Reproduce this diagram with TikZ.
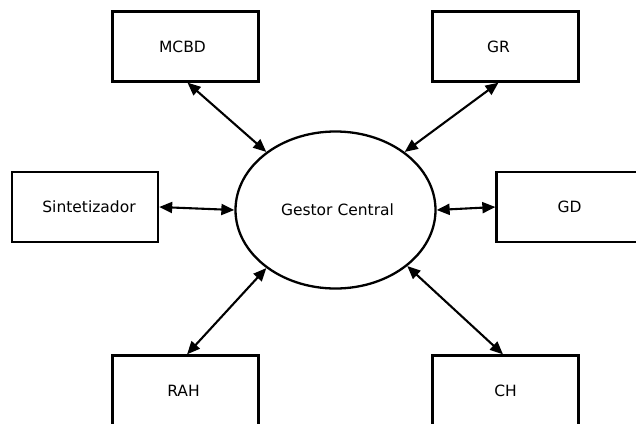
\documentclass[tikz,border=0pt]{standalone}
\usepackage{fontspec}
\setmainfont{DejaVu Sans}
\usetikzlibrary{shapes.geometric,arrows.meta}
\begin{document}
\begin{tikzpicture}[x=1pt,y=-1pt,
  box/.style={draw,line width=2.3pt,minimum width=146pt,minimum height=70pt,inner sep=0pt,font=\fontsize{15.5}{18}\selectfont},
  hub/.style={draw,ellipse,line width=2.3pt,minimum width=200pt,minimum height=157pt,inner sep=0pt,font=\fontsize{15.5}{18}\selectfont},
  link/.style={line width=2.1pt,{Triangle[length=13pt,width=11pt]}-{Triangle[length=13pt,width=11pt]}}]
\useasboundingbox (0,0) rectangle (636,423);
\clip (0,0) rectangle (636,423);
\node[box] (mcbd) at (185.5,46.5) {MCBD\hspace*{6pt}};
\node[box] (gr) at (505.5,46.5) {GR\hspace*{14pt}};
\node[box] (sint) at (85,207) {\hspace*{8pt}Sintetizador};
\node[box] (gd) at (569.5,207) {GD};
\node[box] (rah) at (185.5,390.5) {RAH\hspace*{4pt}};
\node[box] (ch) at (505.5,390.5) {CH};
\node[hub] (gc) at (335.5,210) {\hspace*{4pt}Gestor Central};
\draw[link] ([xshift=2pt]mcbd.south) -- (gc.140);
\draw[link] ([xshift=-7pt]gr.south) -- (gc.40);
\draw[link] (sint.east) -- (gc.west);
\draw[link] (gc.east) -- (gd.west);
\draw[link] ([xshift=1.5pt]rah.north) -- (gc.220);
\draw[link] ([xshift=-2.5pt]ch.north) -- (gc.322);
\end{tikzpicture}
\end{document}
